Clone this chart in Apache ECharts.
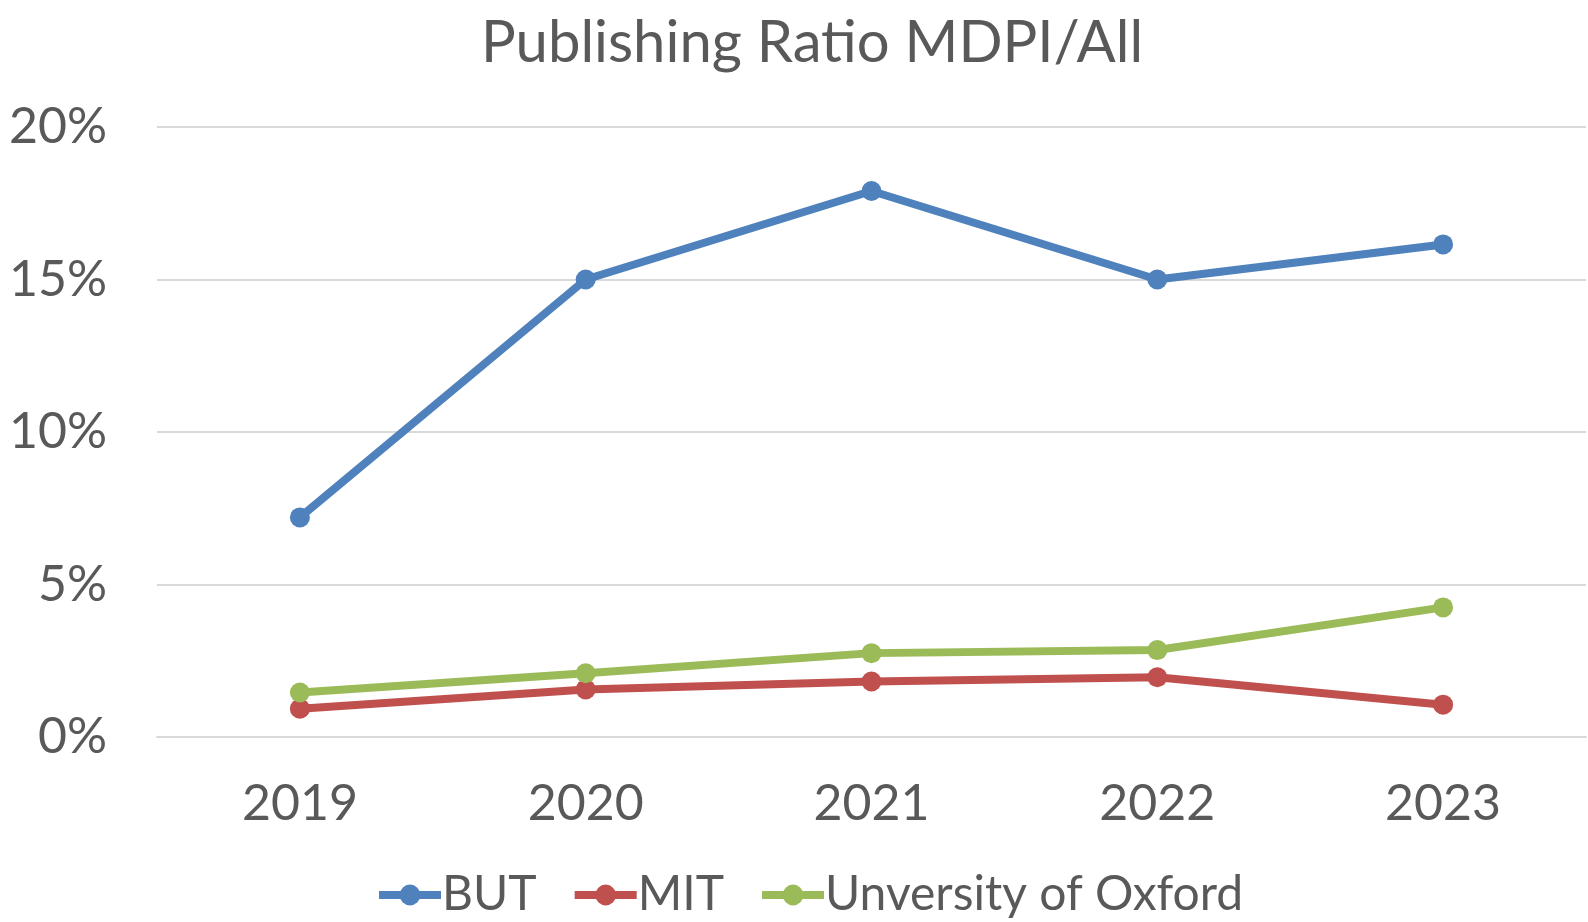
<!DOCTYPE html>
<html>
<head>
<meta charset="utf-8">
<script src="https://cdn.jsdelivr.net/npm/echarts@6/dist/echarts.min.js"></script>
<style>
  html, body { margin: 0; padding: 0; background: #fff; }
  #main { width: 1588px; height: 922px; }
</style>
</head>
<body>
<div id="main"></div>
<script>
// data (percent)
const years = ['2019', '2020', '2021', '2022', '2023'];
const butData = [7.2, 15.0, 17.9, 15.0, 16.15];
const mitData = [0.93, 1.56, 1.82, 1.96, 1.06];
const oxfordData = [1.46, 2.09, 2.75, 2.85, 4.25];
const yTicks = [0, 5, 10, 15, 20];

const font = 'Lato, "Open Sans", sans-serif';
const textColor = '#595959';

let myChart = echarts.init(document.getElementById('main'));

function lineSeries(name, data, color) {
  return {
    name: name,
    type: 'line',
    data: data,
    symbol: 'circle',
    symbolSize: 20,
    lineStyle: { color: color, width: 8 },
    itemStyle: { color: color },
  };
}

myChart.setOption({
  animation: false,
  textStyle: { fontFamily: font },
  title: {
    text: 'Publishing Ratio MDPI/All',
    left: 476,
    top: 9,
    textStyle: { fontFamily: font, fontSize: 58, fontWeight: 'normal', color: textColor },
  },
  legend: {
    top: 866,
    left: 370,
    itemWidth: 62,
    itemHeight: 26,
    itemGap: 34,
    lineStyle: { width: 8 },
    textStyle: { fontFamily: font, fontSize: 48, color: textColor, padding: [0, 0, 0, -4] },
    data: ['BUT', 'MIT', 'Unversity of Oxford'],
  },
  grid: { left: 157, right: 2, top: 127, bottom: 185 },
  xAxis: {
    type: 'category',
    data: years,
    boundaryGap: true,
    axisLine: { lineStyle: { color: '#D9D9D9', width: 2 } },
    axisTick: { show: false },
    axisLabel: { fontFamily: font, fontSize: 50, color: textColor, margin: 42 },
  },
  yAxis: {
    type: 'value',
    min: yTicks[0],
    max: yTicks[yTicks.length - 1],
    interval: 5,
    axisLine: { show: false },
    axisTick: { show: false },
    splitLine: { lineStyle: { color: '#D9D9D9', width: 2 } },
    axisLabel: { fontFamily: font, fontSize: 50, color: textColor, margin: 50, formatter: '{value}%' },
  },
  series: [
    lineSeries('BUT', butData, '#4F81BD'),
    lineSeries('MIT', mitData, '#C0504D'),
    lineSeries('Unversity of Oxford', oxfordData, '#9BBB59'),
  ],
});
</script>
</body>
</html>
